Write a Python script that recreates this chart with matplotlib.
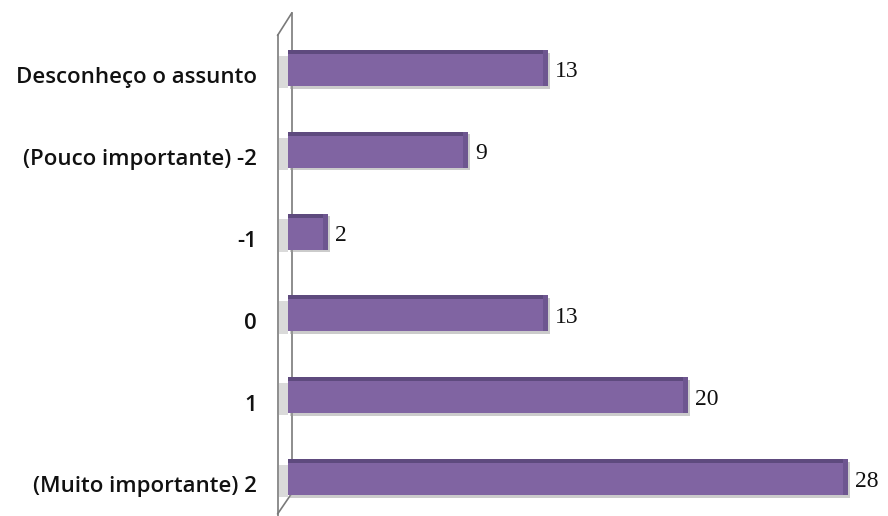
import matplotlib
matplotlib.use("Agg")
import matplotlib.pyplot as plt
import matplotlib.patheffects as pe
import matplotlib.transforms as mtransforms
from matplotlib.lines import Line2D

categories = ["(Muito importante) 2", "1", "0", "-1",
              "(Pouco importante) -2", "Desconheço o assunto"]
values = [28, 20, 13, 2, 9, 13]

bar_color = "#8064A2"
top_color = "#5E4A7E"

fig = plt.figure(figsize=(8.88, 5.16), dpi=100)
ax = fig.add_axes([0.324, 0.0, 0.676, 1.0])
ax.set_xlim(0, 30)
ax.set_ylim(-0.477, 5.83)

pos = list(range(len(categories)))
h = 0.44
bars = ax.barh(pos, values, height=h, color=bar_color, zorder=3,
               path_effects=[pe.SimplePatchShadow(offset=(1.5, -2), shadow_rgbFace="#999999", alpha=0.5),
                             pe.Normal()])
# darker top face of each bar
ax.barh([p + h / 2 - 0.025 for p in pos], values, height=0.05, color=top_color, zorder=4)
# darker end cap
for p, v in zip(pos, values):
    ax.barh(p, 0.25, left=v - 0.25, height=h, color="#6E5690", zorder=4)
# soft shading on the wall behind each bar
for p in pos:
    ax.barh(p - 0.05, 0.45, left=-0.45, height=h * 0.9, color="#dadada", zorder=2, clip_on=False)

for p, v in zip(pos, values):
    ax.text(v + 0.35, p - 0.05, str(v), va="center", ha="left",
            fontsize=17, family="Liberation Serif", color="#111111")

# back wall of the plot area
wall_kw = dict(color="#7a7a7a", lw=1.2, clip_on=False, transform=ax.transData, zorder=1)
xl, xr = -0.5, 0.2
ax.add_line(Line2D([xl, xl], [-0.6, 5.4], **wall_kw))
ax.add_line(Line2D([xr, xr], [-0.2, 5.67], **wall_kw))
ax.add_line(Line2D([xl, xr], [5.4, 5.67], **wall_kw))
ax.add_line(Line2D([xl, xr], [-0.45, -0.2], **wall_kw))

# category labels, set slightly below the bar centres
label_tf = ax.get_yaxis_transform() + mtransforms.ScaledTranslation(-31 / 100, -10 / 100, fig.dpi_scale_trans)
for p, c in zip(pos, categories):
    ax.text(0, p, c, transform=label_tf, ha="right", va="center", fontsize=16,
            family="Open Sans", weight="semibold", color="#111111", clip_on=False)

ax.set_yticks([])
ax.set_xticks([])
for s in ax.spines.values():
    s.set_visible(False)

fig.savefig("out.png", dpi=100)
